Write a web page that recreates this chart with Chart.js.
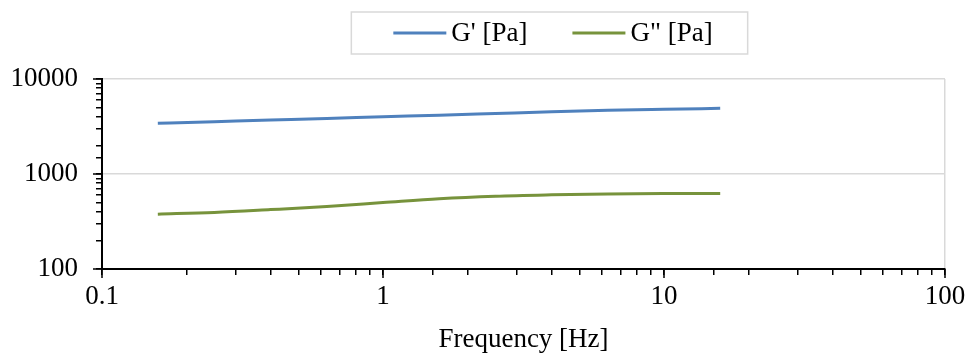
<!DOCTYPE html>
<html>
<head>
<meta charset="utf-8">
<script src="https://cdn.jsdelivr.net/npm/chart.js@4.4.0/dist/chart.umd.min.js"></script>
<style>
  html, body { margin: 0; padding: 0; background: #fff; }
  #wrap { width: 969px; height: 356px; }
</style>
</head>
<body>
<div id="wrap"><canvas id="chart"></canvas></div>
<script>
// values (log-log, 5 points per decade)
const frequency = [0.158, 0.251, 0.398, 0.631, 1, 1.585, 2.512, 3.981, 6.31, 10, 15.85];
const storageModulus = [3420, 3556, 3697, 3843, 4000, 4159, 4335, 4519, 4680, 4800, 4911];
const lossModulus = [378, 394, 422, 455, 500, 549, 583, 603, 617, 623, 625];
const xTickLabels = [0.1, 1, 10, 100];
const yTickLabels = [100, 1000, 10000];

const serif = 'Liberation Serif';
const fontSize = 27;
const gridGray = '#D9D9D9';

function matchTick(list, v) {
    return list.find(t => Math.abs(t - v) / t < 1e-6);
}

// legend drawn by hand so the spacing matches the original box
const legendBox = {
    id: 'legendBox',
    afterDraw(chart) {
        const ctx = chart.ctx;
        const lineLen = 53, gap = 5, spacing = 45, cy = 33;
        ctx.save();
        ctx.font = fontSize + 'px "' + serif + '"';
        const items = chart.data.datasets.map(ds => ({
            text: ds.label, color: ds.borderColor, w: ctx.measureText(ds.label).width
        }));
        const total = items.reduce((s, it) => s + lineLen + gap + it.w, 0) + spacing * (items.length - 1);
        let x = 553 - total / 2;
        ctx.strokeStyle = gridGray;
        ctx.lineWidth = 1.5;
        ctx.strokeRect(x - 42, 12, total + 77, 42);
        ctx.textBaseline = 'middle';
        items.forEach(it => {
            ctx.strokeStyle = it.color;
            ctx.lineWidth = 3;
            ctx.beginPath();
            ctx.moveTo(x, cy);
            ctx.lineTo(x + lineLen, cy);
            ctx.stroke();
            ctx.fillStyle = '#000';
            ctx.fillText(it.text, x + lineLen + gap, cy + 1);
            x += lineLen + gap + it.w + spacing;
        });
        ctx.restore();
    }
};

// longer tick marks at the decades
const majorTicks = {
    id: 'majorTicks',
    afterDraw(chart) {
        const {ctx, scales: {x, y}} = chart;
        ctx.save();
        ctx.strokeStyle = '#000';
        ctx.lineWidth = 1.5;
        ctx.beginPath();
        xTickLabels.forEach(v => {
            const px = x.getPixelForValue(v);
            ctx.moveTo(px, x.top);
            ctx.lineTo(px, x.top + 9);
        });
        yTickLabels.forEach(v => {
            const py = y.getPixelForValue(v);
            ctx.moveTo(y.right - 9, py);
            ctx.lineTo(y.right, py);
        });
        ctx.stroke();
        ctx.restore();
    }
};

const ctx = document.getElementById('chart').getContext('2d');

new Chart(ctx, {
    type: 'line',
    data: {
        datasets: [{
            label: "G' [Pa]",
            data: frequency.map((f, i) => ({x: f, y: storageModulus[i]})),
            borderColor: '#4F81BD',
            borderWidth: 3,
            pointRadius: 0,
            cubicInterpolationMode: 'monotone'
        }, {
            label: 'G" [Pa]',
            data: frequency.map((f, i) => ({x: f, y: lossModulus[i]})),
            borderColor: '#77933C',
            borderWidth: 3,
            pointRadius: 0,
            cubicInterpolationMode: 'monotone'
        }]
    },
    options: {
        responsive: true,
        maintainAspectRatio: false,
        animation: false,
        layout: {
            padding: {top: 79, right: 24, bottom: 0, left: 0}
        },
        plugins: {
            legend: {display: false},
            tooltip: {enabled: false}
        },
        scales: {
            x: {
                type: 'logarithmic',
                min: 0.1,
                max: 100,
                afterFit: s => {
                    s.height = 87;
                    s.paddingLeft = 0;
                    s.paddingRight = 0;
                },
                border: {display: true, color: '#000', width: 2},
                grid: {
                    color: c => (c.tick && c.tick.value === 100) ? gridGray : 'rgba(0,0,0,0)',
                    tickColor: '#000',
                    tickLength: 6,
                    lineWidth: 1.5
                },
                ticks: {
                    autoSkip: false,
                    maxRotation: 0,
                    padding: 6,
                    color: '#000',
                    font: {family: serif, size: fontSize},
                    callback: v => {
                        const t = matchTick(xTickLabels, v);
                        return t ? String(t) : '';
                    }
                },
                title: {
                    display: true,
                    text: 'Frequency [Hz]',
                    color: '#000',
                    font: {family: serif, size: fontSize},
                    padding: {top: 4, bottom: 0}
                }
            },
            y: {
                type: 'logarithmic',
                min: 100,
                max: 10000,
                afterFit: s => { s.width = 102; },
                border: {display: true, color: '#000', width: 2},
                grid: {
                    color: c => (c.tick && (c.tick.value === 1000 || c.tick.value === 10000)) ? gridGray : 'rgba(0,0,0,0)',
                    tickColor: '#000',
                    tickLength: 6,
                    lineWidth: 1.5
                },
                ticks: {
                    autoSkip: false,
                    padding: 18,
                    color: '#000',
                    font: {family: serif, size: fontSize},
                    callback: v => {
                        const t = matchTick(yTickLabels, v);
                        return t ? String(t) : '';
                    }
                }
            }
        }
    },
    plugins: [legendBox, majorTicks]
});
</script>
</body>
</html>
